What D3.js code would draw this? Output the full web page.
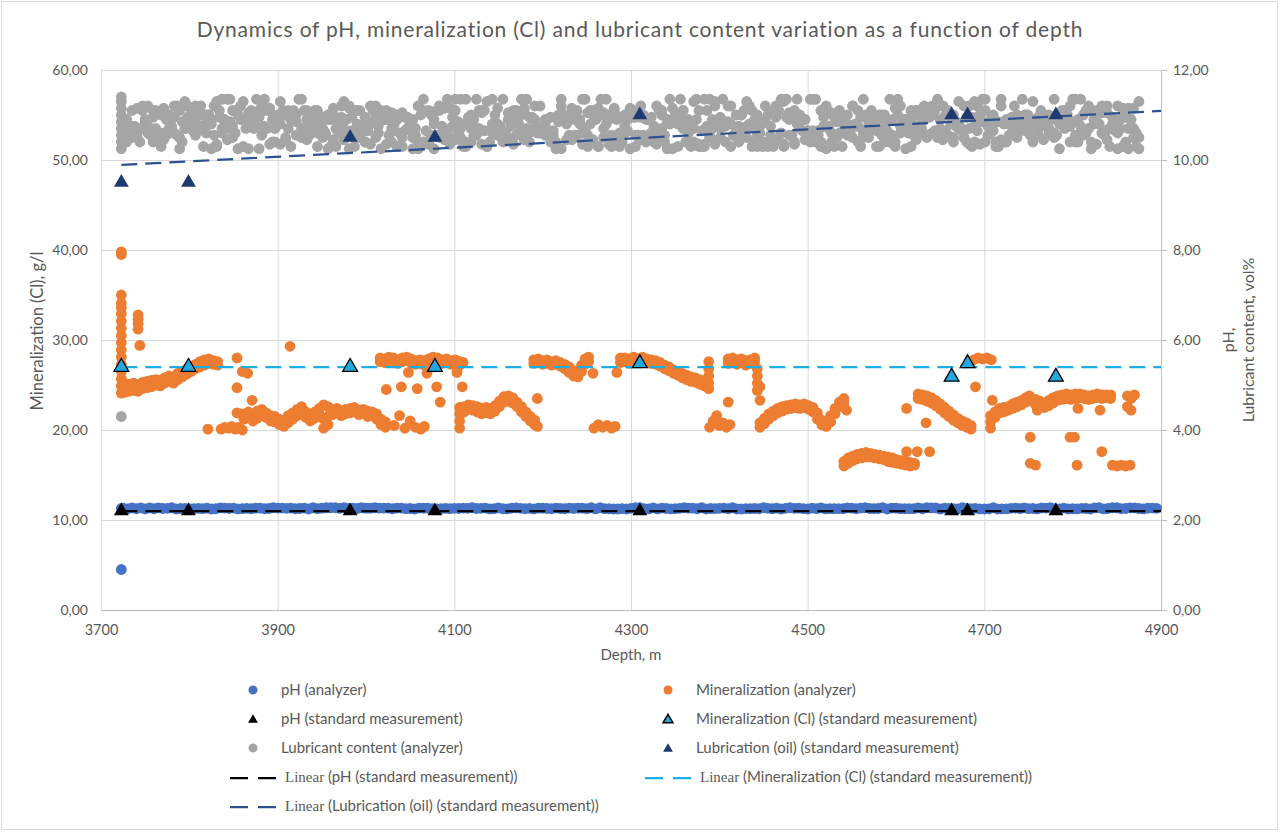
<!DOCTYPE html>
<html><head><meta charset="utf-8">
<script src="https://cdn.jsdelivr.net/npm/d3@7"></script>
<style>
body{margin:0;background:#fff}
text{font-family:Lato,"Open Sans",sans-serif}
</style>
</head><body>
<svg id="chart" width="1280" height="832"></svg>
<script>
// ---------------- DATA ----------------
const chartTitle = "Dynamics of pH, mineralization (Cl) and lubricant content variation as a function of depth";
const depthTicks = [3700,3900,4100,4300,4500,4700,4900];
const leftTicks = [0,10,20,30,40,50,60];
const rightTicks = [0,2,4,6,8,10,12];

// standard (lab) measurements
const stdDepths = [3723,3799,3982,4078,4310,4663,4681,4781];
const pHStd     = [11.0,11.0,11.0,11.0,11.0,11.0,11.0,11.0];
const minStd    = [27.0,27.0,27.0,27.0,27.4,25.9,27.4,25.9];
const lubStd    = [9.5,9.5,10.5,10.5,11.0,11.0,11.0,11.0];

// linear trend lines (depth, value) endpoints
const pHTrend  = [[3723,11.0],[4900,11.0]];
const minTrend = [[3723,27.0],[4900,27.0]];
const lubTrend = [[3723,9.89],[4900,11.09]];

// pH analyzer: [depth, reading]  (left axis)
const pHAnalyzer = [
[3723,4.5],[3723,11.3],
[3725,11.33],[3730,11.24],[3735,11.35],[3740,11.25],[3745,11.35],[3750,11.24],[3755,11.35],[3760,11.25],[3765,11.35],[3770,11.28],
[3775,11.3],[3780,11.36],[3785,11.22],[3790,11.28],[3795,11.3],[3800,11.25],[3805,11.27],[3810,11.3],[3815,11.27],[3820,11.32],
[3825,11.22],[3830,11.25],[3835,11.35],[3840,11.33],[3845,11.28],[3850,11.33],[3855,11.24],[3860,11.27],[3865,11.3],[3870,11.25],
[3875,11.32],[3880,11.32],[3885,11.25],[3890,11.28],[3895,11.36],[3900,11.33],[3905,11.33],[3910,11.3],[3915,11.33],[3920,11.25],
[3925,11.28],[3930,11.33],[3935,11.22],[3940,11.36],[3945,11.27],[3950,11.32],[3955,11.36],[3960,11.36],[3965,11.36],[3970,11.3],
[3975,11.36],[3980,11.3],[3985,11.33],[3990,11.28],[3995,11.36],[4000,11.32],[4005,11.32],[4010,11.36],[4015,11.32],[4020,11.33],
[4025,11.32],[4030,11.25],[4035,11.33],[4040,11.33],[4045,11.25],[4050,11.28],[4055,11.22],[4060,11.33],[4065,11.32],[4070,11.32],
[4075,11.27],[4080,11.22],[4085,11.27],[4090,11.3],[4095,11.27],[4100,11.3],[4105,11.28],[4110,11.33],[4115,11.3],[4120,11.36],
[4125,11.28],[4130,11.3],[4135,11.33],[4140,11.24],[4145,11.27],[4150,11.35],[4155,11.25],[4160,11.24],[4165,11.33],[4170,11.35],
[4175,11.3],[4180,11.25],[4185,11.3],[4190,11.24],[4195,11.32],[4200,11.32],[4205,11.28],[4210,11.25],[4215,11.33],[4220,11.28],
[4225,11.25],[4230,11.33],[4235,11.28],[4240,11.32],[4245,11.32],[4250,11.27],[4255,11.36],[4260,11.24],[4265,11.36],[4270,11.27],
[4275,11.25],[4280,11.22],[4285,11.22],[4290,11.27],[4295,11.22],[4300,11.3],[4305,11.36],[4310,11.36],[4315,11.25],[4320,11.24],
[4325,11.35],[4330,11.24],[4335,11.33],[4340,11.28],[4345,11.24],[4350,11.27],[4355,11.3],[4360,11.36],[4365,11.32],[4370,11.32],
[4375,11.25],[4380,11.36],[4385,11.22],[4390,11.28],[4395,11.27],[4400,11.3],[4405,11.33],[4410,11.25],[4415,11.36],[4420,11.22],
[4425,11.22],[4430,11.27],[4435,11.27],[4440,11.28],[4445,11.25],[4450,11.36],[4455,11.3],[4460,11.25],[4465,11.32],[4470,11.22],
[4475,11.3],[4480,11.36],[4485,11.3],[4490,11.32],[4495,11.27],[4500,11.22],[4505,11.33],[4510,11.27],[4515,11.35],[4520,11.24],
[4525,11.27],[4530,11.25],[4535,11.27],[4540,11.25],[4545,11.35],[4550,11.32],[4555,11.25],[4560,11.33],[4565,11.36],[4570,11.28],
[4575,11.27],[4580,11.28],[4585,11.36],[4590,11.22],[4595,11.33],[4600,11.32],[4605,11.27],[4610,11.25],[4615,11.27],[4620,11.27],
[4625,11.35],[4630,11.25],[4635,11.36],[4640,11.35],[4645,11.35],[4650,11.22],[4655,11.33],[4660,11.3],[4665,11.27],[4670,11.24],
[4675,11.36],[4680,11.3],[4685,11.25],[4690,11.3],[4695,11.24],[4700,11.22],[4705,11.24],[4710,11.36],[4715,11.22],[4720,11.24],
[4725,11.24],[4730,11.3],[4735,11.33],[4740,11.27],[4745,11.35],[4750,11.27],[4755,11.28],[4760,11.24],[4765,11.35],[4770,11.33],
[4775,11.36],[4780,11.27],[4785,11.22],[4790,11.33],[4795,11.22],[4800,11.25],[4805,11.24],[4810,11.3],[4815,11.28],[4820,11.22],
[4825,11.35],[4830,11.36],[4835,11.24],[4840,11.28],[4845,11.36],[4850,11.36],[4855,11.27],[4860,11.28],[4865,11.35],[4870,11.35],
[4875,11.28],[4880,11.24],[4885,11.32],[4890,11.33],[4895,11.3]
];

// mineralization analyzer: [depth, readings...]  (left axis, g/l)
const minAnalyzer = [
[3723,24.1,24.9,25.7,26.5,27.3,28.1,28.9,29.7,30.5,31.3,32.1,32.9,33.6,34.1,35.0,39.5,39.8],
[3742,32.8,32.3,31.8,31.2],[3744,29.4],
[3727,24.2,24.8,25.2],[3732,24.3,25.1],[3737,24.4,25.2],[3742,24.3,25.0],[3747,24.6,25.3],[3752,24.7,25.4],
[3757,24.8,25.5],[3762,25.0,25.6],[3767,24.9,25.5],[3772,25.2,25.8],[3777,25.4,26.0],[3782,25.2,25.9],
[3787,25.6,26.3],[3792,25.9,26.5],[3797,26.2,26.8],[3802,26.5,27.0],[3807,26.8,27.3],[3812,27.0,27.6],
[3817,27.2,27.8],[3822,27.4,27.9],[3827,27.3,27.7],[3832,27.2,27.6],
[3854,28.0,24.7,21.9],[3860,26.5],[3866,26.3],[3871,23.3],[3858,21.8],
[3821,20.1],[3836,20.1],[3840,20.3],[3844,20.2],[3848,20.4],[3852,20.1],[3856,20.3],[3860,20.0],
[3862,21.2,21.8],[3867,21.5,22.0],[3872,21.0,21.6],[3877,21.3,22.1],[3882,21.7,22.3],[3887,21.4,21.9],
[3892,21.0,21.6],[3897,20.9,21.5],[3902,20.6,21.2],[3907,20.4,21.0],[3912,20.8,21.6],[3917,21.2,21.9],
[3922,21.6,22.3],[3927,21.9,22.6],[3932,21.4,22.0],[3937,21.0,21.7],[3942,21.3,22.0],[3947,21.8,22.4],
[3952,20.2,21.2,22.8],[3957,20.6,21.5,22.6],[3962,21.7,22.2],[3967,21.9,22.4],[3972,21.6,22.1],
[3977,21.8,22.3],[3982,21.9,22.4],[3987,22.1,22.5],[3992,21.7,22.2],[3997,21.9,22.3],[4002,21.5,22.1],
[4007,21.6,22.0],[4012,21.2,21.8],[4017,20.6,21.2],[4022,20.3,20.9],
[3914,29.3],
[4016,27.6,28.0],[4021,27.5,27.9],[4026,27.7,28.1],[4031,27.6,28.0],[4036,27.4,27.8],[4041,27.6,28.0],
[4046,27.7,28.1],[4051,27.5,27.9],[4056,27.3,27.7],[4061,27.4,27.8],[4066,27.2,27.7],[4071,27.5,27.9],
[4076,27.7,28.1],[4081,27.6,28.0],[4086,27.4,27.8],[4091,27.5,27.9],[4096,27.3,27.7],[4101,27.4,27.8],
[4106,27.2,27.6],[4110,27.5],
[4048,26.4],[4069,26.3],[4103,26.4],[4023,24.5],[4040,24.8],[4058,24.6],[4080,24.8],[4084,23.1],[4109,24.8],
[4032,20.5],[4038,21.6],[4044,20.2],[4050,21.0],[4056,20.3],[4062,20.1],[4066,20.4],
[4106,20.2,21.0,21.8,22.5],[4111,22.0,22.6],[4116,22.3,22.8],[4121,22.2,22.7],[4126,22.0,22.6],
[4131,21.8,22.4],[4136,21.9,22.5],[4141,21.8,22.4],[4146,22.1,22.7],[4151,22.6,23.2],[4156,23.1,23.7],
[4161,23.2,23.8],[4166,23.0,23.6],[4171,22.6,23.1],[4176,22.0,22.6],[4181,21.5,22.0],[4186,21.0,21.5],
[4191,20.6,21.1],[4194,20.4,23.5],
[4190,27.4,27.8],[4195,27.5,27.9],[4200,27.3,27.7],[4205,27.4,27.8],[4210,27.2,27.6],[4215,27.3,27.7],
[4220,27.1,27.5],[4225,26.8,27.3],[4230,26.4,27.0],[4235,26.0,26.6],[4240,25.9,26.4],[4244,26.5,27.2],
[4248,27.3,27.9],[4252,27.6,28.1],[4257,26.3],
[4258,20.2],[4263,20.6],[4268,20.3],[4273,20.5],[4278,20.2],[4282,20.4],[4284,26.4],
[4288,27.5,28.0],[4293,27.6,28.0],[4298,27.4,27.9],[4303,27.6,28.1],[4308,27.5,27.9],[4313,27.7,28.1],
[4318,27.6,27.9],[4323,27.4,27.8],[4328,27.3,27.7],[4333,27.1,27.5],
[4338,26.8,27.2],[4343,26.6,27.0],[4348,26.3,26.7],[4353,26.1,26.5],[4358,25.8,26.3],[4363,25.6,26.1],
[4368,25.4,25.9],[4373,25.3,25.8],[4378,25.1,25.6],[4383,24.9,25.4],[4388,24.6,25.2,26.0,26.8,27.6],
[4389,20.3],[4393,21.0],[4397,21.6],[4400,20.5],[4404,20.8],[4408,20.3],[4412,20.6],[4410,23.1],
[4410,27.4,27.9],[4415,27.6,28.0],[4420,27.3,27.8],[4425,27.5,27.9],[4430,27.2,27.7],[4435,27.4,27.8],
[4440,27.6,28.0],[4443,24.4,25.2,26.0,26.8],[4446,24.8,23.3],
[4446,20.3,20.8],[4451,20.7,21.3],[4456,21.2,21.8],[4461,21.6,22.1],[4466,21.9,22.4],[4471,22.1,22.6],
[4476,22.3,22.7],[4481,22.4,22.8],[4486,22.5,22.9],[4491,22.4,22.8],[4496,22.5,22.9],[4501,22.3,22.7],
[4506,22.0,22.5],[4511,21.2,21.9],[4516,20.6,21.1],[4521,20.4,20.9],[4526,20.9,21.6],[4531,21.8,22.4],
[4536,22.6,23.1],[4541,23.0,23.5],[4544,22.2],
[4541,16.0,16.5],[4546,16.3,16.9],[4551,16.6,17.1],[4556,16.8,17.3],[4561,16.9,17.4],[4566,17.0,17.5],
[4571,17.0,17.4],[4576,16.9,17.3],[4581,16.8,17.2],[4586,16.7,17.1],[4591,16.5,17.0],[4596,16.4,16.9],
[4601,16.3,16.7],[4606,16.2,16.6],[4611,16.1,16.5],[4616,16.0,16.4],[4621,16.1,16.3],
[4612,17.6,22.4],[4624,17.6],[4638,17.6],
[4625,23.5,24.0],[4630,23.4,23.9],[4635,23.2,23.8],[4640,23.0,23.6],[4645,22.7,23.3],[4650,22.3,22.9],
[4655,21.9,22.5],[4660,21.5,22.1],[4665,21.1,21.7],[4670,20.8,21.3],[4675,20.5,21.0],[4680,20.3,20.8],
[4685,20.1,20.5],[4634,20.8],[4690,24.8],
[4688,27.8],[4693,28.0],[4698,27.9],[4703,28.0],[4708,27.8],[4709,23.3],
[4707,20.2,20.9,21.6],[4712,21.4,22.0],[4717,21.9,22.4],[4722,22.0,22.5],[4727,22.2,22.6],[4732,22.4,22.9],
[4737,22.6,23.1],[4742,22.8,23.3],[4747,23.1,23.6],[4751,23.3,23.8],[4752,19.2,16.3],[4758,16.1],
[4758,22.8,23.4],[4763,22.6,23.2],[4768,22.5,23.0],[4773,22.7,23.3],[4778,23.0,23.6],[4783,23.3,23.8],
[4788,23.4,23.9],[4793,23.5,24.0],[4798,23.4,23.9],[4803,23.5,24.0],[4808,23.6,24.0],[4813,23.5,23.9],
[4818,23.4,23.8],[4823,23.5,23.9],[4828,23.6,24.0],[4833,23.5,23.9],[4838,23.6,23.9],[4843,23.5,23.9],
[4760,22.2],[4806,22.4],[4831,22.2],[4797,19.2],[4802,19.2],[4805,16.1],[4833,17.6],
[4845,16.1],[4850,16.0],[4855,16.1],[4860,16.0],[4865,16.1],
[4862,23.8,22.6],[4866,23.5,22.2],[4870,23.9]
];

// lubricant content analyzer: [depth, readings...]  (right axis, vol%)
const lubAnalyzer = [
[3723,4.3,10.25,10.4,10.55,10.7,10.85,11.0,11.15,11.3,11.4],
[3729,10.9,10.45,10.4],[3735,11.1,10.75,10.5],[3741,11.15,10.5,10.6],[3747,11.1,10.7,11.2],[3753,11.2,10.75,10.6],
[3759,10.95,10.4,11.1],[3765,11.05,10.55,10.5],[3771,11.15,10.45,10.6],[3777,11.0,10.7,10.6],[3783,10.95,10.6,11.2],
[3789,11.1,10.25,10.5],[3795,11.3,10.7,10.7],[3801,10.9,10.75,11.0],[3807,10.9,10.55,11.2],[3813,11.0,10.75,11.2],
[3819,11.0,10.6,10.8],[3825,10.9,10.25,10.8],[3831,11.3,10.35,10.3],[3837,11.35,10.6,10.7],[3843,11.35,10.45,10.7],
[3849,11.1,10.75,10.5],[3855,11.0,10.25,11.0],[3861,11.3,10.3,10.9],[3867,11.05,10.25,10.9],[3873,10.95,10.7,10.9],
[3879,10.95,10.25,11.1],[3885,11.35,10.75,11.1],[3891,11.15,10.35,11.1],[3897,10.85,10.4,10.7],[3903,11.3,10.35,10.8],
[3909,11.0,10.45,10.5],[3915,10.9,10.3,11.0],[3921,10.85,10.55,11.0],[3927,11.35,10.7,10.5],[3933,10.9,10.45,11.1],
[3939,10.85,10.7,10.9],[3945,11.1,10.3,10.6],[3951,10.95,10.7,10.5],[3957,11.0,10.25,10.9],[3963,11.15,10.45,11.0],
[3969,10.85,10.75,10.6],[3975,11.3,10.45,10.7],[3981,11.15,10.25,11.2],[3987,11.1,10.5,10.3],[3993,11.1,10.7,10.5],
[3999,10.95,10.4,10.4],[4005,11.2,10.35,10.8],[4011,11.0,10.5,11.2],[4017,11.05,10.25,11.1],[4023,10.9,10.35,11.1],
[4029,11.05,10.7,10.4],[4035,10.9,10.3,11.0],[4041,11.05,10.5,10.3],[4047,10.95,10.7,10.7],[4053,10.9,10.25,10.5],
[4059,11.2,10.25,10.4],[4065,11.35,10.4,11.1],[4071,11.1,10.35,10.4],[4077,10.9,10.25,10.8],[4083,11.1,10.5,11.2],
[4089,11.15,10.45,10.7],[4095,11.15,10.35,10.5],[4101,11.35,10.45,11.1],[4107,11.35,10.5,10.7],[4113,11.35,10.4,10.3],
[4119,11.0,10.7,10.4],[4125,11.35,10.55,10.7],[4131,11.05,10.35,11.1],[4137,11.3,10.3,10.3],[4143,11.35,10.6,10.8],
[4149,11.15,10.55,10.8],[4155,11.35,10.4,10.6],[4161,11.05,10.45,10.9],[4167,10.9,10.35,11.1],[4173,11.05,10.6,10.8],
[4179,11.15,10.45,11.1],[4185,10.95,10.4,10.6],[4191,11.2,10.7,10.9],[4197,11.2,10.7,10.6],[4203,10.9,10.55,10.8],
[4209,10.95,10.6,10.4],[4215,10.95,10.25,10.4],[4221,11.35,10.25,11.2],[4227,10.9,10.45,10.8],[4233,11.15,10.45,11.1],
[4239,11.1,10.55,10.9],[4245,11.35,10.35,10.6],[4251,11.05,10.55,10.3],[4257,11.0,10.45,11.1],[4263,11.15,10.3,10.3],
[4269,11.05,10.5,10.7],[4275,11.0,10.35,10.9],[4281,11.15,10.45,11.1],[4287,10.95,10.3,10.6],[4293,11.0,10.75,10.6],
[4299,11.15,10.25,11.0],[4305,10.95,10.55,10.3],[4311,10.95,10.45,11.2],[4317,10.9,10.45,10.4],[4323,10.95,10.6,10.6],
[4329,11.2,10.35,10.7],[4335,11.1,10.7,11.0],[4341,10.85,10.25,10.9],[4347,11.15,10.25,10.9],[4353,11.0,10.3,10.8],
[4359,11.1,10.7,11.1],[4365,10.9,10.6,10.7],[4371,11.3,10.7,10.4],[4377,11.1,10.35,10.3],[4383,11.35,10.35,10.3],
[4389,11.35,10.55,10.5],[4395,11.3,10.35,11.2],[4401,10.95,10.5,10.7],[4407,10.85,10.75,10.4],[4413,11.2,10.3,10.8],
[4419,11.0,10.55,10.7],[4425,11.0,10.55,11.0],[4431,11.3,10.75,10.5],[4437,11.1,10.75,10.3],[4443,11.0,10.55,10.3],
[4449,10.85,10.3,10.4],[4455,11.0,10.4,10.3],[4461,11.1,10.4,10.3],[4467,11.1,10.45,11.1],[4473,11.3,10.35,10.3],
[4479,11.05,10.55,10.9],[4485,11.1,10.35,10.4],[4491,11.0,10.7,10.7],[4497,10.9,10.45,10.9],[4503,11.35,10.5,10.4],
[4509,11.35,10.45,10.4],[4515,11.1,10.3,10.4],[4521,11.15,10.25,11.2],[4527,11.05,10.4,10.6],[4533,10.85,10.5,11.0],
[4539,10.95,10.6,10.3],[4545,11.0,10.55,10.8],[4551,11.2,10.5,11.2],[4557,11.1,10.75,10.4],[4563,11.35,10.5,10.6],
[4569,10.85,10.75,10.5],[4575,10.9,10.7,10.9],[4581,10.9,10.3,11.0],[4587,11.0,10.7,10.4],[4593,11.35,10.4,10.5],
[4599,11.15,10.3,10.4],[4605,11.2,10.75,10.6],[4611,10.9,10.25,10.8],[4617,10.9,10.3,11.1],[4623,11.1,10.45,11.1],
[4629,10.85,10.6,10.7],[4635,11.05,10.55,10.5],[4641,11.0,10.6,11.2],[4647,11.35,10.55,10.5],[4653,11.2,10.45,11.2],
[4659,11.1,10.55,11.0],[4665,11.0,10.5,10.4],[4671,11.3,10.7,10.8],[4677,11.2,10.5,10.5],[4683,11.2,10.35,10.7],
[4689,11.3,10.75,10.4],[4695,10.95,10.35,11.0],[4701,11.35,10.4,11.1],[4707,10.9,10.7,10.6],[4713,10.85,10.3,10.4],
[4719,11.35,10.45,11.2],[4725,10.9,10.45,10.4],[4731,10.95,10.75,10.8],[4737,11.0,10.5,10.9],[4743,11.35,10.7,10.8],
[4749,11.0,10.75,11.0],[4755,11.3,10.4,10.5],[4761,10.95,10.55,10.7],[4767,11.0,10.45,10.9],[4773,11.0,10.7,10.6],
[4779,11.35,10.6,10.5],[4785,10.95,10.25,10.8],[4791,11.05,10.7,11.1],[4797,11.2,10.75,10.4],[4803,11.35,10.55,10.4],
[4809,11.35,10.75,10.6],[4815,11.1,10.6,10.6],[4821,11.1,10.25,10.4],[4827,10.85,10.35,11.1],[4833,11.05,10.6,11.2],
[4839,11.05,10.45,11.2],[4845,10.95,10.75,10.8],[4851,11.2,10.25,10.6],[4857,11.15,10.3,11.1],[4863,11.15,10.25,10.7],
[4869,11.15,10.7,10.5],[4875,11.3,10.25,10.5],
[3732,10.75,10.6],[3738,10.75,10.65],[3744,10.4,10.7],[3750,10.9,10.85],[3756,10.55,10.7],[3762,11.1,10.7],[3768,10.3,11.0],[3774,10.9,10.55],[3780,10.75,10.95],[3786,11.2,10.55],
[3792,10.4,10.85],[3798,11.2,10.95],[3804,11.1,10.65],[3810,10.75,10.65],[3816,10.3,11.0],[3822,11.0,11.0],[3828,11.2,10.55],[3834,11.1,10.95],[3840,10.9,10.85],[3846,11.35,10.85],
[3852,11.1,10.6],[3858,11.2,10.9],[3864,10.9,10.7],[3870,11.1,10.85],[3876,11.35,10.75],[3882,11.2,10.55],[3888,11.1,10.7],[3894,10.4,10.9],[3900,11.0,10.85],[3906,11.1,11.0],
[3912,11.1,10.7],[3918,11.1,11.0],[3924,11.35,10.55],[3930,11.1,10.7],[3936,10.55,10.75],[3942,11.1,10.95],[3948,10.75,10.85],[3954,10.55,10.6],[3960,10.3,10.9],[3966,10.3,10.7],
[3972,11.2,10.95],[3978,10.9,10.55],[3984,10.65,10.95],[3990,11.1,10.8],[3996,10.65,10.75],[4002,10.65,10.65],[4008,11.1,10.85],[4014,10.75,10.6],[4020,10.9,10.9],[4026,10.55,10.9],
[4032,10.65,10.8],[4038,10.3,10.6],[4044,10.65,10.95],[4050,10.75,10.85],[4056,10.55,10.7],[4062,10.3,11.0],[4068,10.4,10.65],[4074,10.55,11.0],[4080,11.1,10.55],[4086,10.55,10.75],
[4092,11.35,10.65],[4098,10.75,10.95],[4104,10.65,10.85],[4110,10.3,10.8],[4116,10.9,10.95],[4122,10.9,10.55],[4128,11.1,10.7],[4134,11.1,10.65],[4140,10.4,10.65],[4146,11.0,10.75],
[4152,10.75,10.6],[4158,10.55,10.6],[4164,10.75,11.0],[4170,11.1,10.55],[4176,11.35,11.0],[4182,11.35,10.7],[4188,10.9,10.95],[4194,10.65,10.6],[4200,10.75,10.6],[4206,10.65,10.65],
[4212,10.55,10.65],[4218,11.0,10.85],[4224,10.9,11.0],[4230,10.55,10.9],[4236,10.9,10.55],[4242,10.9,10.8],[4248,11.35,10.65],[4254,11.1,10.8],[4260,10.9,10.9],[4266,11.35,11.0],
[4272,11.35,10.8],[4278,10.3,10.55],[4284,10.9,10.55],[4290,10.4,10.6],[4296,10.9,10.65],[4302,11.1,10.95],[4308,10.55,10.55],[4314,11.0,10.55],[4320,10.9,10.9],[4326,10.4,10.75],
[4332,11.1,10.55],[4338,10.4,10.55],[4344,11.35,10.8],[4350,10.9,11.0],[4356,11.35,10.9],[4362,10.4,10.85],[4368,10.3,10.8],[4374,11.35,10.9],[4380,10.3,10.65],[4386,11.1,10.75],
[4392,10.9,10.7],[4398,10.75,10.8],[4404,11.35,10.85],[4410,11.2,10.85],[4416,10.55,10.55],[4422,10.4,10.75],[4428,11.1,10.65],[4434,11.2,10.8],[4440,10.4,10.9],[4446,10.75,10.6],
[4452,11.2,10.85],[4458,10.75,10.55],[4464,11.2,10.95],[4470,11.35,10.6],[4476,11.35,10.95],[4482,11.0,10.55],[4488,11.35,10.8],[4494,10.9,10.65],[4500,10.65,10.65],[4506,11.35,10.65],
[4512,10.65,10.55],[4518,10.75,10.95],[4524,10.75,10.7],[4530,10.3,10.95],[4536,11.1,10.6],[4542,10.75,10.7],[4548,10.55,10.6],[4554,10.75,10.8],[4560,10.3,10.95],[4566,10.65,11.0],
[4572,11.1,10.85],[4578,10.3,10.65],[4584,11.0,10.55],[4590,10.65,10.85],[4596,10.55,10.9],[4602,11.35,11.0],[4608,10.9,10.65],[4614,10.9,10.6],[4620,10.75,10.55],[4626,11.1,11.0],
[4632,11.2,11.0],[4638,11.0,10.95],[4644,11.1,10.65],[4650,10.9,10.7],[4656,10.65,11.0],[4662,11.0,10.8],[4668,10.75,10.85],[4674,10.65,10.7],[4680,10.4,10.95],[4686,10.3,10.95],
[4692,11.2,10.65],[4698,11.35,10.85],[4704,10.75,10.55],[4710,11.0,10.65],[4716,10.3,10.85],[4722,10.4,10.8],[4728,10.55,10.8],[4734,11.2,10.7],[4740,10.9,10.65],[4746,10.65,11.0],
[4752,10.9,10.55],[4758,10.9,10.75],[4764,11.1,10.75],[4770,10.9,10.9],[4776,10.9,10.55],[4782,10.55,10.95],[4788,11.1,10.9],[4794,10.9,11.0],[4800,11.35,10.85],[4806,10.4,10.9],
[4812,10.55,11.0],[4818,11.2,10.7],[4824,10.9,10.8],[4830,11.1,10.8],[4836,10.55,10.65],[4842,10.3,10.7],[4848,10.65,10.9],[4854,10.9,10.7],[4860,10.4,10.95],[4866,10.9,10.9],
[4872,10.3,10.6]
];

const legendLabels = [
  "pH (analyzer)", "Mineralization (analyzer)",
  "pH (standard measurement)", "Mineralization (Cl) (standard measurement)",
  "Lubricant content (analyzer)", "Lubrication (oil) (standard measurement)",
  "Linear (pH (standard measurement))", "Linear (Mineralization (Cl) (standard measurement))",
  "Linear (Lubrication (oil) (standard measurement))"
];

// ---------------- DRAWING ----------------
const C = {ph:"#4472C4", min:"#ED7D31", lub:"#A5A5A5", phStd:"#000000", minStd:"#22A9E0",
           lubStd:"#1F3A70", minTr:"#1CADE4", lubTr:"#2E5192", text:"#595959", grid:"#D9D9D9", axis:"#BFBFBF"};
const svg = d3.select("#chart");
const L = 101, R = 1161, T = 70, B = 610;
const x  = d3.scaleLinear().domain([3700,4900]).range([L,R]);
const yL = d3.scaleLinear().domain([0,60]).range([B,T]);
const yR = d3.scaleLinear().domain([0,12]).range([B,T]);
const fmt = d3.formatLocale({decimal:",",thousands:" ",grouping:[3],currency:["",""]}).format(".2f");

svg.append("rect").attr("x",1.5).attr("y",1.5).attr("width",1276).attr("height",828)
  .attr("fill","#fff").attr("stroke","#D9D9D9");

// title
svg.append("text").attr("x",640).attr("y",37).attr("text-anchor","middle")
  .attr("font-size",21).attr("letter-spacing",0.8).attr("fill",C.text).text(chartTitle);

// grid
const hg = svg.append("g").attr("transform",`translate(${L},0)`)
  .call(d3.axisLeft(yL).tickValues(leftTicks).tickSize(-(R-L)).tickFormat(""));
hg.select(".domain").remove();
hg.selectAll("line").attr("stroke",C.grid);
const vg = svg.append("g").attr("transform",`translate(0,${B})`)
  .call(d3.axisBottom(x).tickValues(depthTicks).tickSize(-(B-T)).tickFormat(""));
vg.select(".domain").remove();
vg.selectAll("line").attr("stroke",C.grid);

// axes
const ax = svg.append("g").attr("transform",`translate(0,${B})`)
  .call(d3.axisBottom(x).tickValues(depthTicks).tickFormat(d3.format("d")).tickSize(0).tickPadding(15));
ax.select(".domain").attr("stroke",C.axis);
ax.selectAll("text").attr("fill",C.text).attr("font-size",14.5).attr("font-family","Lato");

const ay = svg.append("g").attr("transform",`translate(${L},0)`)
  .call(d3.axisLeft(yL).tickValues(leftTicks).tickFormat(fmt).tickSize(0).tickPadding(13));
ay.select(".domain").remove();
ay.selectAll("text").attr("fill",C.text).attr("font-size",14).attr("font-family","Lato");

const ar = svg.append("g").attr("transform",`translate(${R},0)`)
  .call(d3.axisRight(yR).tickValues(rightTicks).tickFormat(fmt).tickSizeInner(6).tickSizeOuter(0).tickPadding(6));
ar.select(".domain").attr("stroke",C.axis);
ar.selectAll("line").attr("stroke",C.axis);
ar.selectAll("text").attr("fill",C.text).attr("font-size",14).attr("font-family","Lato");

// axis titles
svg.append("text").attr("x",631).attr("y",660).attr("text-anchor","middle")
  .attr("font-size",15).attr("fill",C.text).text("Depth, m");
svg.append("text").attr("transform","translate(43,331) rotate(-90)").attr("text-anchor","middle")
  .attr("font-size",16.5).attr("fill",C.text).text("Mineralization (Cl), g/l");
svg.append("text").attr("transform","translate(1234,340) rotate(-90)").attr("text-anchor","middle")
  .attr("font-size",16).attr("fill",C.text).text("pH,");
svg.append("text").attr("transform","translate(1254,340) rotate(-90)").attr("text-anchor","middle")
  .attr("font-size",16).attr("fill",C.text).text("Lubricant content, vol%");

// helpers
const flat = rows => rows.flatMap(r => r.slice(1).map(v => [r[0], v]));
const dotR = 5.4;
function dots(rows, yScale, color){
  svg.append("g").selectAll("circle").data(flat(rows)).join("circle")
    .attr("cx",d=>x(d[0])).attr("cy",d=>yScale(d[1])).attr("r",dotR).attr("fill",color);
}
dots(pHAnalyzer, yL, C.ph);
dots(minAnalyzer, yL, C.min);
dots(lubAnalyzer, yR, C.lub);

// trend lines
function trend(pts, yScale, color){
  svg.append("path").datum(pts)
    .attr("d", d3.line().x(d=>x(d[0])).y(d=>yScale(d[1])))
    .attr("fill","none").attr("stroke",color).attr("stroke-width",2.25).attr("stroke-dasharray","16,8");
}
trend(pHTrend, yL, C.phStd);
trend(minTrend, yL, C.minTr);
trend(lubTrend, yR, C.lubTr);

// standard measurement triangles
const tri = d3.symbol().type(d3.symbolTriangle).size(95);
function triangles(vals, yScale, fill, stroke){
  svg.append("g").selectAll("path").data(stdDepths.map((d,i)=>[d, vals[i]])).join("path")
    .attr("d",tri).attr("transform",d=>`translate(${x(d[0])},${yScale(d[1])})`)
    .attr("fill",fill).attr("stroke",stroke).attr("stroke-width",stroke==="none"?0:1.3);
}
triangles(pHStd, yL, C.phStd, "none");
triangles(minStd, yL, C.minStd, "#000");
triangles(lubStd, yR, C.lubStd, "none");

// legend
const legendRows = [690,719,748,777,806];
const legendCols = [253,668];
const legendItems = [
  {type:"dot", color:C.ph}, {type:"dot", color:C.min},
  {type:"tri", color:C.phStd, stroke:"none"}, {type:"tri", color:C.minStd, stroke:"#000"},
  {type:"dot", color:C.lub}, {type:"tri", color:C.lubStd, stroke:"none"},
  {type:"line", color:C.phStd}, {type:"line", color:C.minTr},
  {type:"line", color:C.lubTr}
];
const lg = svg.append("g");
legendItems.forEach((it,i)=>{
  const cx = legendCols[i%2], cy = legendRows[Math.floor(i/2)];
  const label = legendLabels[i];
  if(it.type==="dot"){
    lg.append("circle").attr("cx",cx).attr("cy",cy).attr("r",4.5).attr("fill",it.color);
  } else if(it.type==="tri"){
    lg.append("path").attr("d",d3.symbol().type(d3.symbolTriangle).size(42))
      .attr("transform",`translate(${cx},${cy+1})`).attr("fill",it.color)
      .attr("stroke",it.stroke).attr("stroke-width",it.stroke==="none"?0:1.5);
  } else {
    lg.append("line").attr("x1",cx-23).attr("x2",cx+24).attr("y1",cy+1).attr("y2",cy+1)
      .attr("stroke",it.color).attr("stroke-width",2.25).attr("stroke-dasharray","18,10");
  }
  const t = lg.append("text").attr("x",cx+(it.type==="line"?32:28)).attr("y",cy+5)
    .attr("font-size",15).attr("fill",C.text);
  if(label.startsWith("Linear")){
    t.append("tspan").attr("font-family","'Liberation Serif','DejaVu Serif',serif").text("Linear");
    t.append("tspan").text(label.slice(6));
  } else t.text(label);
});
</script>
</body></html>
